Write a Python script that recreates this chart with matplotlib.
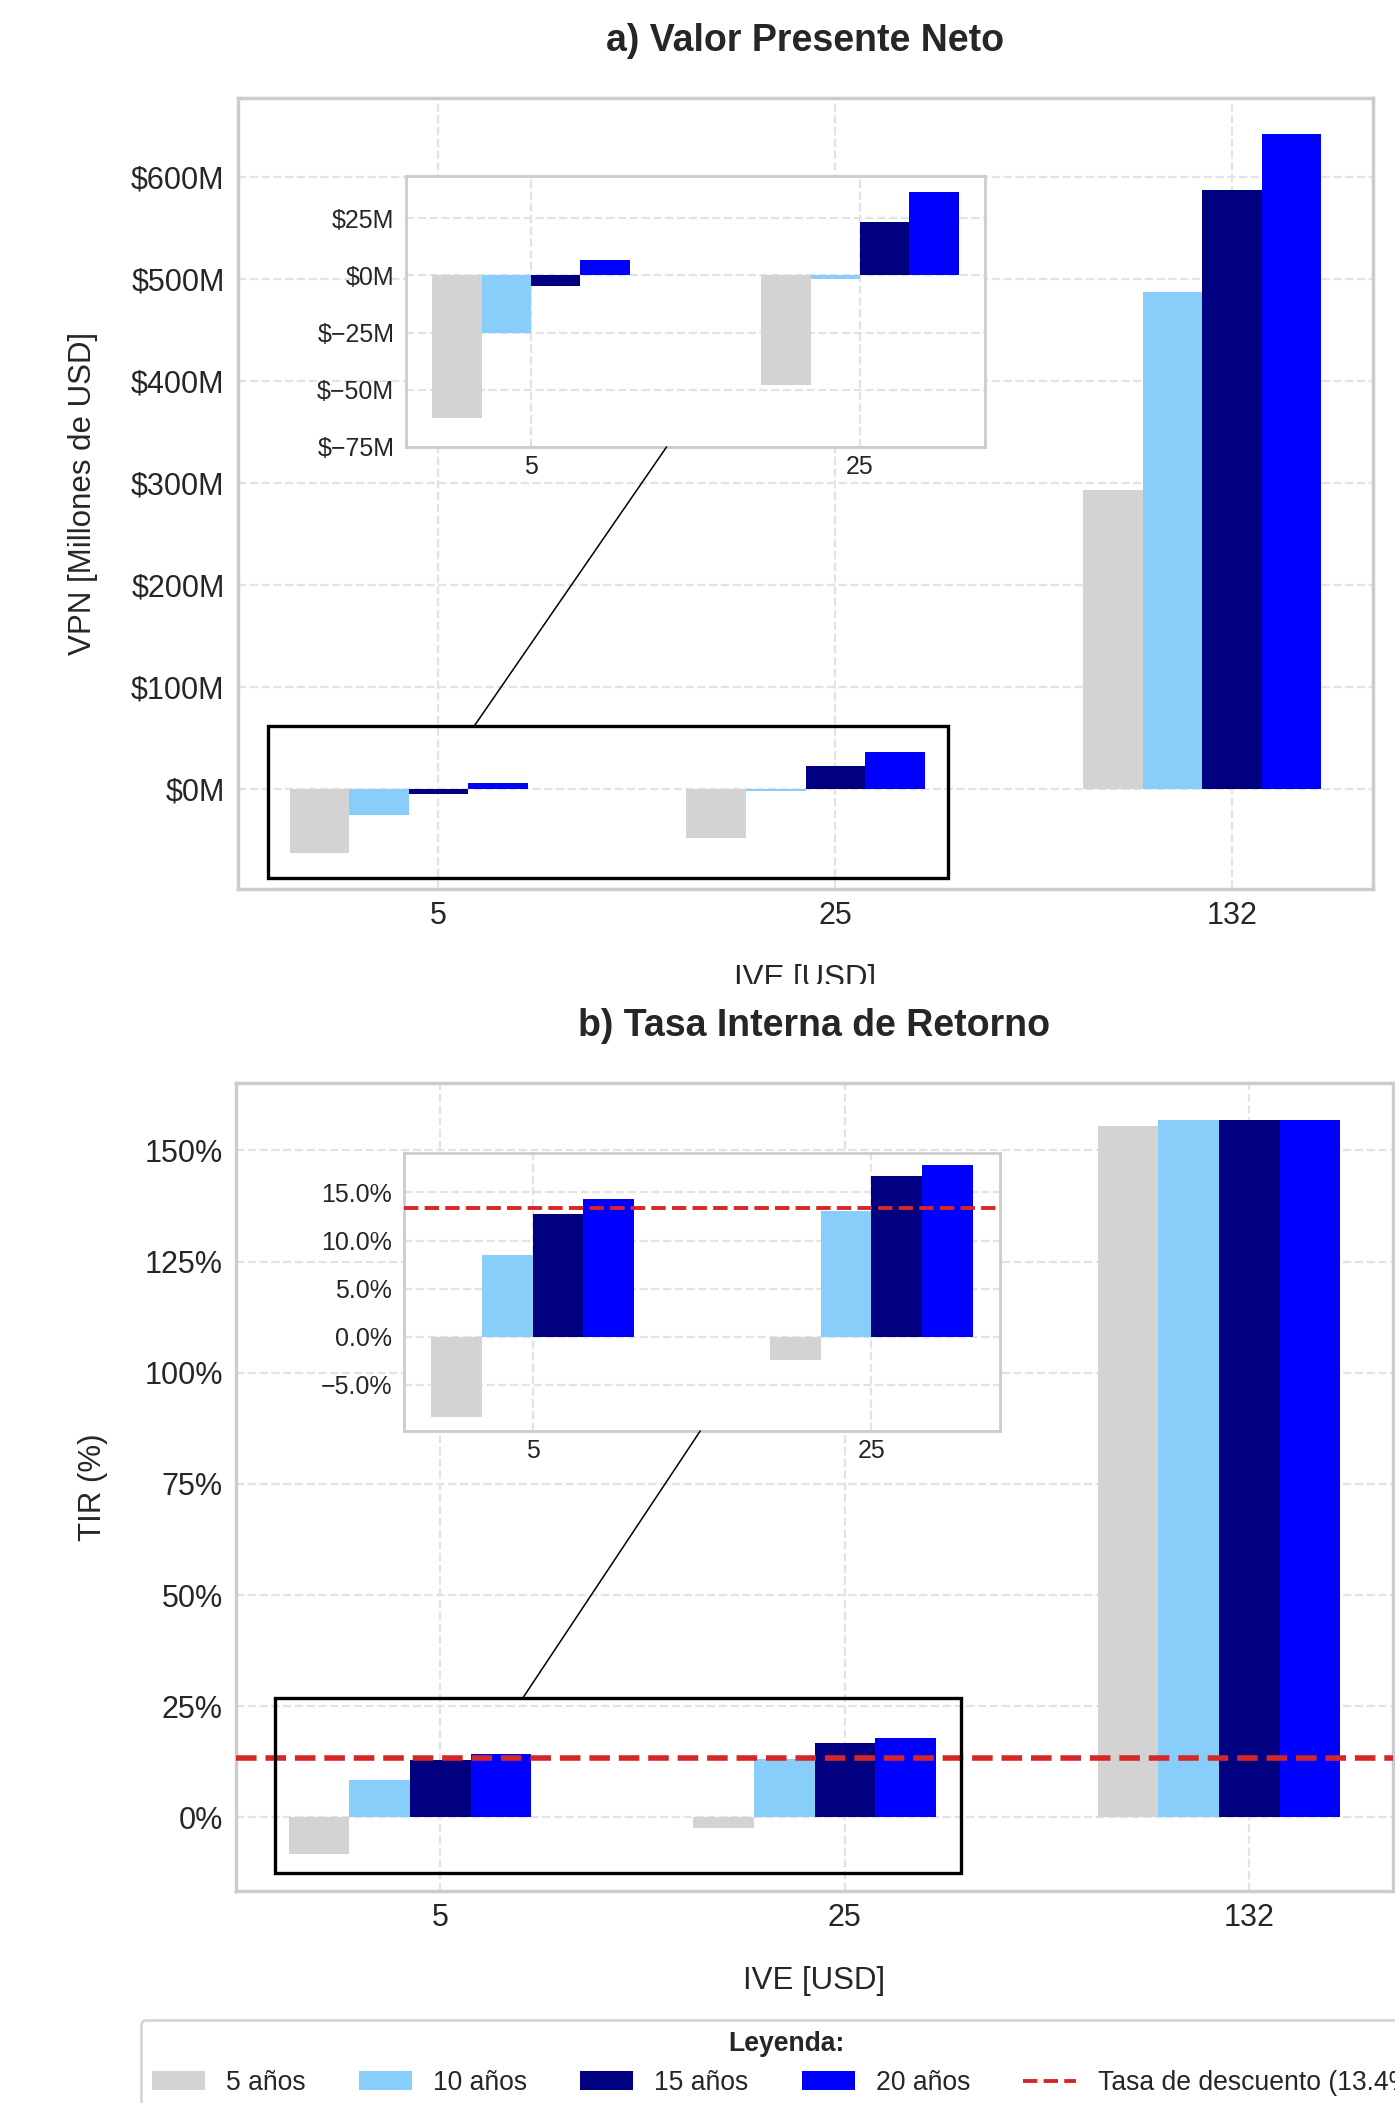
import matplotlib
matplotlib.use("Agg")
import numpy as np
import matplotlib.pyplot as plt
from matplotlib.patches import Rectangle, Patch, ConnectionPatch
from matplotlib.lines import Line2D
from matplotlib.ticker import MultipleLocator, StrMethodFormatter, PercentFormatter

plt.rcParams['font.family'] = ['Liberation Sans', 'DejaVu Sans']
plt.rcParams['text.color'] = '#262626'
plt.rcParams['axes.labelcolor'] = '#262626'
plt.rcParams['xtick.color'] = '#262626'
plt.rcParams['ytick.color'] = '#262626'

# ---- data -------------------------------------------------------------
ive_labels = ['5', '25', '132']
horizontes = ['5 años', '10 años', '15 años', '20 años']
colores = ['#d3d3d3', '#87cefa', '#000080', '#0000ff']

# Valor presente neto [millones USD] por horizonte
vpn_5 = [-62.5, -47.7, 293.4]
vpn_10 = [-25.1, -1.4, 487.4]
vpn_15 = [-4.7, 23.1, 587.6]
vpn_20 = [6.6, 36.5, 642.7]

# Tasa interna de retorno [%] por horizonte
tir_5 = [-8.3, -2.4, 155.4]
tir_10 = [8.5, 13.1, 156.9]
tir_15 = [12.8, 16.7, 156.9]
tir_20 = [14.3, 17.9, 156.9]

tasa_descuento = 13.4

vpn_series = [vpn_5, vpn_10, vpn_15, vpn_20]
tir_series = [tir_5, tir_10, tir_15, tir_20]

# ---- figure -----------------------------------------------------------
W, H, DPI = 1395, 2103, 200
fig = plt.figure(figsize=(W / DPI, H / DPI), dpi=DPI, facecolor='white')


def frac(left, top, right, bottom):
    return [left / W, 1 - bottom / H, (right - left) / W, (bottom - top) / H]


ax_vpn = fig.add_axes(frac(238, 98, 1373, 889))
ax_tir = fig.add_axes(frac(236, 1083, 1393, 1891))
in_vpn = fig.add_axes(frac(406, 176, 985, 447))
in_tir = fig.add_axes(frac(404, 1153, 1000, 1431))

w = 0.15
x = np.arange(len(ive_labels))
x_in = np.arange(2)

GRID = dict(color='#e3e3e3', linestyle='--', linewidth=0.8)


def style(ax, tick_size, ypad, xpad, spine_lw):
    ax.set_facecolor('white')
    ax.set_axisbelow(True)
    ax.grid(True, **GRID)
    for s in ax.spines.values():
        s.set_color('#cccccc')
        s.set_linewidth(spine_lw)
    ax.tick_params(axis='both', length=0, labelsize=tick_size)
    ax.tick_params(axis='y', pad=ypad)
    ax.tick_params(axis='x', pad=xpad)


# main bars
for ax, series in ((ax_vpn, vpn_series), (ax_tir, tir_series)):
    for i, (vals, c, lab) in enumerate(zip(series, colores, horizontes)):
        ax.bar(x + (i - 2) * w, vals, w, color=c, label=lab, zorder=2)
    ax.set_xticks(x)
    ax.set_xticklabels(ive_labels)
    style(ax, 11, 4.8, 4.2, 1.25)
    ax.set_xlabel('IVE [USD]', fontsize=11.25, labelpad=12)

# inset bars (first two IVE values)
for ax, series in ((in_vpn, vpn_series), (in_tir, tir_series)):
    for i, (vals, c) in enumerate(zip(series, colores)):
        ax.bar(x_in + (i - 1.5) * w, vals[:2], w, color=c, zorder=2)
    ax.set_xticks(x_in)
    ax.set_xticklabels(ive_labels[:2])
    style(ax, 9, 4.2, 3.0, 1.0)

# axis formats
ax_vpn.yaxis.set_major_locator(MultipleLocator(100))
ax_vpn.yaxis.set_major_formatter(StrMethodFormatter('${x:.0f}M'))
ax_vpn.set_ylabel('VPN [Millones de USD]', fontsize=11.25, labelpad=12)
ax_vpn.set_title('a) Valor Presente Neto', fontsize=13.5, fontweight='bold', pad=17)

in_vpn.set_ylim(-75, 43.4)
in_vpn.yaxis.set_major_locator(MultipleLocator(25))
in_vpn.yaxis.set_major_formatter(StrMethodFormatter('${x:.0f}M'))

ax_tir.yaxis.set_major_locator(MultipleLocator(25))
ax_tir.yaxis.set_major_formatter(PercentFormatter(xmax=100, decimals=0))
ax_tir.set_ylabel('TIR (%)', fontsize=11.25, labelpad=13)
ax_tir.set_title('b) Tasa Interna de Retorno', fontsize=13.5, fontweight='bold', pad=17)

in_tir.set_ylim(-9.8, 19.1)
in_tir.yaxis.set_major_locator(MultipleLocator(5))
in_tir.yaxis.set_major_formatter(PercentFormatter(xmax=100, decimals=1))

# discount rate reference
ax_tir.axhline(tasa_descuento, color='#d62728', linestyle='--', linewidth=2.0, zorder=4)
in_tir.axhline(tasa_descuento, color='#d62728', linestyle='--', linewidth=1.4, zorder=4)

# zoom regions and connectors
for ax, ins, (x0, y0, x1, y1), (cx, cy), fx in (
        (ax_vpn, in_vpn, (-0.43, -86.6, 1.285, 62.5), (0.091, 62.5), 0.45),
        (ax_tir, in_tir, (-0.408, -12.5, 1.287, 26.85), (0.204, 26.85), 0.497)):
    ax.autoscale_view()
    rect = Rectangle((x0, y0), x1 - x0, y1 - y0, fill=False,
                     edgecolor='black', linewidth=1.2, zorder=5)
    ax.add_artist(rect)
    con = ConnectionPatch(xyA=(cx, cy), coordsA=ax.transData,
                          xyB=(fx, 0), coordsB=ins.transAxes,
                          color='black', linewidth=0.55)
    fig.add_artist(con)

# band separating the two panels
fig.add_artist(Rectangle((0, 1 - 996 / H), 1, (996 - 983.5) / H,
                         transform=fig.transFigure, facecolor='white',
                         edgecolor='none', zorder=10))

# legend
handles = [Patch(facecolor=c, label=l) for c, l in zip(colores, horizontes)]
handles.append(Line2D([], [], color='#d62728', linestyle='--', linewidth=1.4,
                      label=f'Tasa de descuento ({tasa_descuento:.1f}%)'))
leg = fig.legend(handles=handles, loc='upper left',
                 bbox_to_anchor=(141 / W, 1 - 2020 / H), borderaxespad=0,
                 ncol=5, fontsize=9.55, title='Leyenda:',
                 title_fontproperties={'weight': 'bold', 'size': 9.55},
                 frameon=True, fancybox=True, edgecolor='#cccccc')
leg.get_frame().set_linewidth(1.0)

fig.savefig('out.png', dpi=DPI, facecolor='white')
